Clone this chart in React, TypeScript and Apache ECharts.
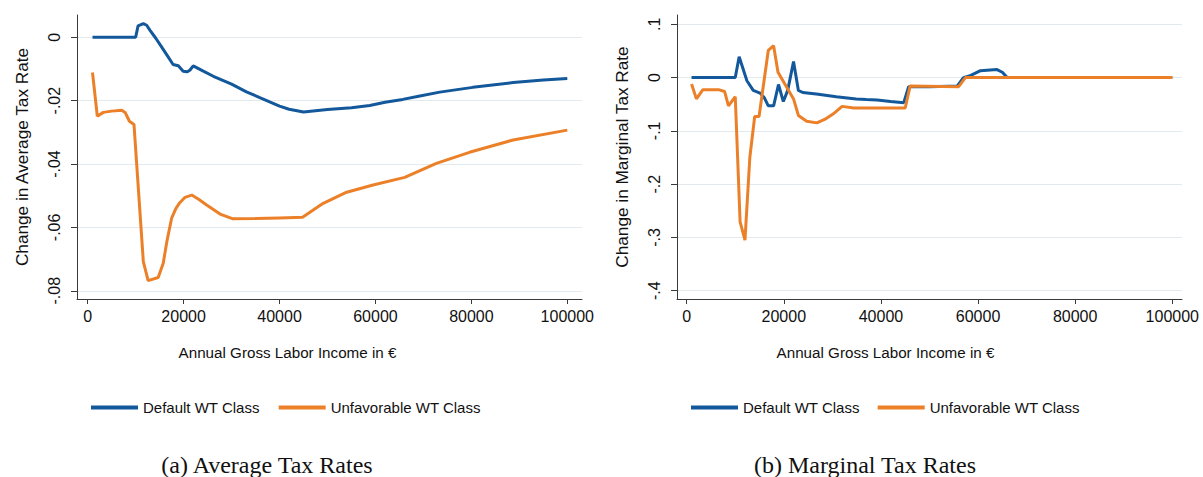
import React, { useEffect, useRef } from "react";
import * as echarts from "echarts";

// ---------- DATA ----------
const xTicks = [0, 20000, 40000, 60000, 80000, 100000];
const atrTicks = [-0.08, -0.06, -0.04, -0.02, 0];
const mtrTicks = [-0.4, -0.3, -0.2, -0.1, 0, 0.1];
const legendNames = ["Default WT Class", "Unfavorable WT Class"];

// (a) Average tax rates
const atrDefaultIncome = [1000, 10000, 10500, 11600, 12300, 13000, 14200, 15400, 16600, 17800, 18900, 19900, 20700, 21300, 22000, 24000, 26200, 30000, 33100, 36000, 40000, 42000, 45000, 50000, 55000, 58800, 62000, 65700, 69000, 73400, 80300, 88700, 95000, 100000];
const atrDefault = [0, 0, 0.0036, 0.0043, 0.0038, 0.0022, -0.0003, -0.003, -0.0058, -0.0086, -0.009, -0.0107, -0.0109, -0.0104, -0.009, -0.0106, -0.0123, -0.0148, -0.0172, -0.0191, -0.0217, -0.0227, -0.0236, -0.0228, -0.0222, -0.0215, -0.0205, -0.0196, -0.0186, -0.0173, -0.0158, -0.0143, -0.0135, -0.013];
const atrUnfavIncome = [1000, 2000, 3250, 5000, 7100, 7800, 8700, 9650, 11600, 12600, 14700, 15750, 16500, 17500, 18400, 19200, 20300, 21700, 23200, 24800, 27600, 30300, 35000, 40000, 44800, 49100, 54000, 59500, 66100, 72700, 79600, 88700, 100000];
const atrUnfav = [-0.0111, -0.0249, -0.0237, -0.0233, -0.023, -0.0237, -0.0265, -0.0275, -0.0708, -0.0768, -0.0758, -0.0713, -0.0645, -0.0571, -0.054, -0.0522, -0.0505, -0.0498, -0.0512, -0.0529, -0.0558, -0.0573, -0.0572, -0.057, -0.0568, -0.0524, -0.0489, -0.0466, -0.0442, -0.0398, -0.0363, -0.0324, -0.0293];

// (b) Marginal tax rates
const mtrDefaultIncome = [1000, 10000, 10800, 12400, 13700, 15100, 16000, 16800, 17900, 18900, 19900, 20800, 22000, 23000, 23900, 26700, 30800, 34900, 37000, 39200, 42000, 44700, 45700, 50000, 55700, 57000, 58500, 60500, 63900, 65000, 66000, 100000];
const mtrDefault = [0, 0, 0.039, -0.006, -0.024, -0.029, -0.038, -0.053, -0.053, -0.013, -0.045, -0.024, 0.03, -0.024, -0.028, -0.031, -0.036, -0.04, -0.041, -0.042, -0.045, -0.047, -0.017, -0.017, -0.016, 0, 0.004, 0.013, 0.015, 0.01, 0, 0];
const mtrUnfavIncome = [1000, 2000, 3300, 6700, 7800, 8600, 10000, 11000, 12000, 13000, 14000, 14900, 16800, 17900, 18800, 20600, 22000, 23000, 24700, 26800, 28500, 30200, 32000, 34400, 45000, 46000, 56000, 57400, 100000];
const mtrUnfav = [-0.012, -0.04, -0.023, -0.023, -0.026, -0.053, -0.036, -0.271, -0.305, -0.15, -0.073, -0.073, 0.051, 0.06, 0.01, -0.018, -0.04, -0.071, -0.082, -0.085, -0.078, -0.068, -0.054, -0.057, -0.057, -0.016, -0.017, 0, 0];

// ---------- STYLE ----------
const BLUE = "#12589b";
const ORANGE = "#eb8029";
const AXIS = "#3a3a3a";
const GRIDLINE = "#e2eaee";
const SANS = "'Liberation Sans', Arial, sans-serif";
const SERIF = "'Liberation Serif', serif";

const zip = (xs: number[], ys: number[]) => xs.map((x, i) => [x, ys[i]]);
const stataFmt = (v: number) => {
  const r = Number(v.toFixed(4));
  if (r === 0) return "0";
  return String(r).replace("0.", ".");
};

function xAxisCfg(gridIndex: number, min: number, max: number, pad: number) {
  return {
    type: "value" as const,
    gridIndex,
    min,
    max,
    name: "Annual Gross Labor Income in €",
    nameLocation: "middle" as const,
    nameGap: 46,
    nameTextStyle: { fontFamily: SANS, fontSize: 15.2, color: "#111", padding: [0, pad, 0, 0] },
    axisLine: { show: true, onZero: false, lineStyle: { color: AXIS, width: 1 } },
    axisTick: { show: true, length: 5, customValues: xTicks, lineStyle: { color: AXIS } },
    axisLabel: {
      customValues: xTicks,
      fontFamily: SANS,
      fontSize: 16,
      color: "#111",
      margin: 9,
      formatter: (v: number) => String(Math.round(v)),
    },
    splitLine: { show: false },
  };
}

function yAxisCfg(gridIndex: number, min: number, max: number, ticks: number[], name: string) {
  return {
    type: "value" as const,
    gridIndex,
    min,
    max,
    name,
    nameLocation: "middle" as const,
    nameRotate: 90,
    nameGap: 47,
    nameTextStyle: { fontFamily: SANS, fontSize: 17.2, color: "#111" },
    axisLine: { show: true, onZero: false, lineStyle: { color: AXIS, width: 1 } },
    axisTick: { show: true, length: 6, customValues: ticks, lineStyle: { color: AXIS } },
    axisLabel: {
      customValues: ticks,
      rotate: 90,
      fontFamily: SANS,
      fontSize: 16,
      color: "#111",
      margin: 15,
      formatter: (v: number) => stataFmt(v),
    },
    splitLine: { show: true, customValues: ticks, lineStyle: { color: GRIDLINE, width: 1.2 } },
  };
}

function lineSeries(name: string, idx: number, data: number[][], color: string) {
  return {
    type: "line" as const,
    name,
    xAxisIndex: idx,
    yAxisIndex: idx,
    data,
    showSymbol: false,
    symbol: "none",
    lineStyle: { color, width: 3 },
    itemStyle: { color },
    emphasis: { disabled: true },
  };
}

function legendCfg(left: number, gap: number) {
  return {
    left,
    top: 400,
    padding: 0,
    data: legendNames,
    icon: "rect",
    itemWidth: 47,
    itemHeight: 4,
    itemGap: gap,
    selectedMode: false,
    textStyle: { fontFamily: SANS, fontSize: 15, color: "#111" },
  };
}

export default function App() {
  const ref = useRef<HTMLDivElement>(null);
  useEffect(() => {
    if (!ref.current) return;
    const chart = echarts.init(ref.current, undefined, { renderer: "svg" });
    chart.setOption({
      animation: false,
      backgroundColor: "#ffffff",
      grid: [
        { left: 77, top: 15, width: 505, height: 284 },
        { left: 677, top: 15, width: 505, height: 284 },
      ],
      xAxis: [xAxisCfg(0, -2231, 103066, 84), xAxisCfg(1, -1998, 101998, 88)],
      yAxis: [
        yAxisCfg(0, -0.0826, 0.00704, atrTicks, "Change in Average Tax Rate"),
        yAxisCfg(1, -0.4156, 0.1175, mtrTicks, "Change in Marginal Tax Rate"),
      ],
      legend: [legendCfg(91, 19), legendCfg(691, 18)],
      series: [
        lineSeries(legendNames[0], 0, zip(atrDefaultIncome, atrDefault), BLUE),
        lineSeries(legendNames[1], 0, zip(atrUnfavIncome, atrUnfav), ORANGE),
        lineSeries(legendNames[0], 1, zip(mtrDefaultIncome, mtrDefault), BLUE),
        lineSeries(legendNames[1], 1, zip(mtrUnfavIncome, mtrUnfav), ORANGE),
      ],
      graphic: [
        {
          type: "text",
          x: 267,
          y: 465,
          style: { text: "(a) Average Tax Rates", fontFamily: SERIF, fontSize: 24, fill: "#111", align: "center", verticalAlign: "middle" },
        },
        {
          type: "text",
          x: 865,
          y: 465,
          style: { text: "(b) Marginal Tax Rates", fontFamily: SERIF, fontSize: 24, fill: "#111", align: "center", verticalAlign: "middle" },
        },
      ],
    });
    return () => chart.dispose();
  }, []);
  return (
    <div
      ref={ref}
      style={{ position: "fixed", left: 0, top: 0, width: 1203, height: 477, background: "#fff" }}
    />
  );
}
